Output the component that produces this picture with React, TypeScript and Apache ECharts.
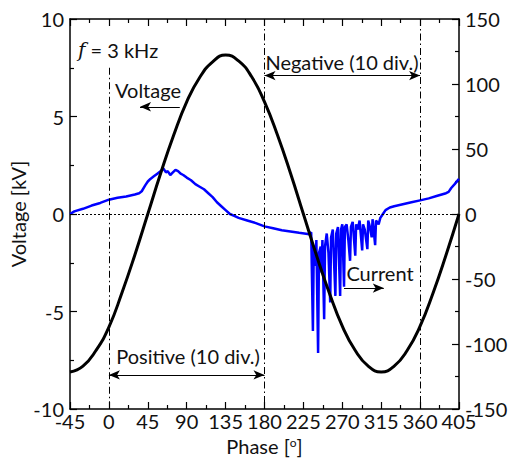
import React, { useEffect, useRef } from "react";
import * as echarts from "echarts";

const voltagePhase = [-45, -30, -15, 0, 15, 30, 45, 60, 75, 90, 105, 120, 135, 150, 165, 180, 195, 210, 225, 240, 255, 270, 285, 300, 315, 330, 345, 360, 375, 390, 405];
const voltageKV = [-8.1, -7.8, -7.0, -5.8, -4.05, -2.1, 0, 2.1, 4.05, 5.75, 7.0, 7.8, 8.15, 7.85, 7.05, 5.75, 4.05, 2.1, 0, -2.1, -4.05, -5.75, -7.0, -7.8, -8.1, -7.8, -7.0, -5.75, -4.05, -2.1, 0];

const currentPhase = [-45, -40, -30, -20, -10, 0, 10, 20, 30, 35, 38, 42, 45, 48, 52, 56, 60, 63, 66, 68, 71, 74, 77, 80, 83, 86, 90, 95, 100, 105, 110, 115, 120, 125, 130, 135, 140, 145, 150, 160, 170, 180, 190, 200, 210, 220, 232, 234, 236, 237, 239, 240, 242, 243, 245, 246, 247, 249, 250, 252, 254, 256, 257, 259, 262, 263, 265, 267.5, 268.5, 270, 272, 273, 275, 277, 279, 280, 282, 285, 286, 288, 290, 293, 294, 296, 299, 300, 302, 304, 305, 308, 309, 312, 314, 317, 320, 325, 330, 340, 350, 360, 370, 380, 390, 393, 396, 400, 405];
const currentA = [0, 2, 4, 6.5, 8.5, 11, 12.5, 13.5, 15, 16, 17.5, 22, 25, 27, 29, 31, 33, 35, 32, 33, 30, 32, 34, 33, 31, 30, 28, 26, 23, 21, 19, 16, 13, 9, 6, 3, 0, -1.5, -3, -5, -7, -9.5, -11, -12.5, -13.5, -14.5, -15.5, -14, -90, -25, -40, -20, -107, -30, -25, -45, -20, -81, -25, -15, -30, -68, -18, -12, -63, -15, -10, -63, -12, -8, -56, -10, -8, -20, -36, -10, -6, -32, -8, -12, -5, -28, -8, -12, -27, -5, -10, -18, -4, -24, -5, -8, -3, 0, 3, 5, 6, 7.5, 9, 10.5, 12, 14, 16, 17, 20, 23, 27];

const xTicks = { min: -45, max: 405, interval: 45 };
const leftTicks = { min: -10, max: 10, interval: 5 };
const rightTicks = { min: -150, max: 150, interval: 50 };

const FONT = 'Lato, "Open Sans", sans-serif';
const TXT = "#111";
const FS = 20;

export default function App() {
  const ref = useRef<HTMLDivElement>(null);
  useEffect(() => {
    if (!ref.current) return;
    const chart = echarts.init(ref.current, undefined, { renderer: "svg" });
    const axisLine = { show: true, onZero: false, lineStyle: { color: "#000", width: 1.5 } };
    const tick = { show: true, inside: true, length: 7, lineStyle: { color: "#000", width: 1.2 } };
    const minor = { show: true, splitNumber: 2, length: 4, lineStyle: { color: "#000", width: 1.2 } };
    const label = { color: TXT, fontSize: FS, fontFamily: FONT };
    const dashDot = { color: "#000", width: 1, type: [7, 3, 1.5, 3] as any };
    const arrowLine = { color: "#000", width: 1.2, type: "solid" as const };
    const arrowSym = { symbol: "arrow", symbolSize: [7, 11] };
    const none = { symbol: "none" };

    chart.setOption({
      animation: false,
      grid: { left: 70, right: 56, top: 19, bottom: 50, containLabel: false, outerBoundsMode: "none" },
      xAxis: [
        {
          type: "value", ...xTicks, position: "bottom",
          axisLine, axisTick: tick, minorTick: minor, splitLine: { show: false },
          axisLabel: { ...label, margin: 2 },
          name: "Phase [{s|o}]",
          nameLocation: "middle", nameGap: 27, nameMoveOverlap: false,
          nameTextStyle: { ...label, rich: { s: { fontSize: 12, fontFamily: FONT, color: TXT, verticalAlign: "top" } } },
        },
        {
          type: "value", ...xTicks, position: "top",
          axisLine, axisTick: tick, minorTick: minor, splitLine: { show: false },
          axisLabel: { show: false },
        },
      ],
      yAxis: [
        {
          type: "value", ...leftTicks, position: "left",
          axisLine, axisTick: tick, minorTick: minor, splitLine: { show: false },
          axisLabel: { ...label, margin: 6 },
          name: "Voltage [kV]", nameLocation: "middle", nameGap: 42, nameRotate: 90, nameMoveOverlap: false,
          nameTextStyle: label,
        },
        {
          type: "value", ...rightTicks, position: "right",
          axisLine, axisTick: tick, minorTick: minor, splitLine: { show: false },
          axisLabel: { ...label, margin: 6 },
        },
      ],
      series: [
        {
          type: "line", name: "Current", xAxisIndex: 0, yAxisIndex: 1,
          data: currentPhase.map((p, i) => [p, currentA[i]]),
          showSymbol: false, symbol: "none",
          lineStyle: { color: "#0000ff", width: 2.5 }, itemStyle: { color: "#0000ff" },
          z: 3,
        },
        {
          type: "line", name: "Voltage", xAxisIndex: 0, yAxisIndex: 0,
          data: voltagePhase.map((p, i) => [p, voltageKV[i]]),
          smooth: true, showSymbol: false, symbol: "none",
          lineStyle: { color: "#000", width: 3 }, itemStyle: { color: "#000" },
          z: 4,
          markLine: {
            silent: true, symbol: "none", label: { show: false },
            data: [
              [{ coord: [0, 7.5], ...none, lineStyle: dashDot }, { coord: [0, -10], ...none }],
              [{ coord: [180, 10], ...none, lineStyle: dashDot }, { coord: [180, -10], ...none }],
              [{ coord: [360, 10], ...none, lineStyle: dashDot }, { coord: [360, -10], ...none }],
              [{ coord: [-45, 0], ...none, lineStyle: { color: "#000", width: 1, type: [2, 2] } }, { coord: [405, 0], ...none }],
              [{ coord: [180, 7.1], ...arrowSym, lineStyle: arrowLine }, { coord: [360, 7.1], ...arrowSym }],
              [{ coord: [0, -8.25], ...arrowSym, lineStyle: arrowLine }, { coord: [180, -8.25], ...arrowSym }],
              [{ coord: [82, 5.5], ...none, lineStyle: arrowLine }, { coord: [36, 5.5], ...arrowSym }],
              [{ coord: [272, -3.8], ...none, lineStyle: arrowLine }, { coord: [318, -3.8], ...arrowSym }],
            ],
          },
        },
      ],
      graphic: [
        { type: "text", left: 78, top: 40, style: { text: "{i|f} = 3 kHz", fill: TXT, font: `${FS}px ${FONT}`, rich: { i: { fontStyle: "italic", fontSize: FS, fontFamily: "DejaVu Serif", fill: TXT } } } },
        { type: "text", x: 148, y: 90, style: { text: "Voltage", fill: TXT, font: `${FS}px ${FONT}`, align: "center", verticalAlign: "middle" } },
        { type: "text", x: 342, y: 62, style: { text: "Negative (10 div.)", fill: TXT, font: `${FS}px ${FONT}`, align: "center", verticalAlign: "middle" } },
        { type: "text", x: 188, y: 356, style: { text: "Positive (10 div.)", fill: TXT, font: `${FS}px ${FONT}`, align: "center", verticalAlign: "middle" } },
        { type: "text", x: 380, y: 273, style: { text: "Current", fill: TXT, font: `${FS}px ${FONT}`, align: "center", verticalAlign: "middle" } },
      ],
    });
    return () => chart.dispose();
  }, []);
  return <div ref={ref} style={{ width: 515, height: 459, position: "absolute", left: 0, top: 0, background: "#fff" }} />;
}
